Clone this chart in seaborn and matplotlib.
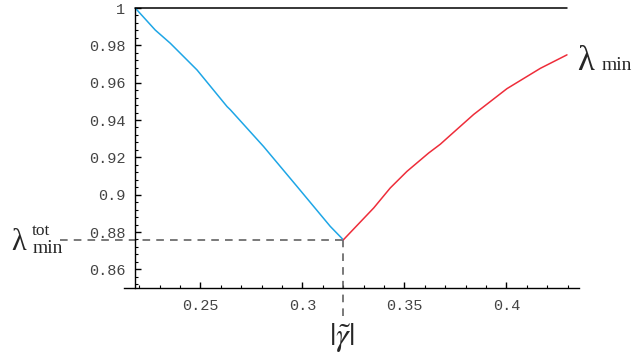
import numpy as np
import pandas as pd
import matplotlib
matplotlib.use('Agg')
import matplotlib.pyplot as plt
import seaborn as sns
from matplotlib.ticker import MultipleLocator, FuncFormatter

# values
blue_x = [0.2181, 0.2279, 0.2353, 0.2484, 0.2631, 0.2647, 0.2810, 0.2974, 0.3137, 0.3201]
blue_y = [1.0, 0.9882, 0.9811, 0.9668, 0.9472, 0.9455, 0.9258, 0.9044, 0.8830, 0.8758]
red_x = [0.3201, 0.3350, 0.3431, 0.3513, 0.3619, 0.3676, 0.3725, 0.3840, 0.4003, 0.4167, 0.4297]
red_y = [0.8758, 0.8929, 0.9036, 0.9125, 0.9223, 0.9270, 0.9318, 0.9430, 0.9568, 0.9677, 0.9749]
top_x = [0.2181, 0.4297]
top_y = [1.0, 1.0]
gamma_c = 0.3201
lam_tot = 0.8758
x_ticks = [0.25, 0.3, 0.35, 0.4]
y_ticks = [0.86, 0.88, 0.9, 0.92, 0.94, 0.96, 0.98, 1.0]

sns.set_style('ticks')
plt.rcParams['mathtext.fontset'] = 'stix'

fig = plt.figure(figsize=(6.34, 3.6), dpi=100)
ax = fig.add_axes([124/634, 72/360, 455/634, 280/360])

blue = pd.DataFrame({'x': blue_x, 'y': blue_y})
red = pd.DataFrame({'x': red_x, 'y': red_y})
sns.lineplot(data=blue, x='x', y='y', ax=ax, color='#1ea6e6', lw=1.1, sort=False)
sns.lineplot(data=red, x='x', y='y', ax=ax, color='#ee2d3a', lw=1.1, sort=False)
ax.plot(top_x, top_y, color='black', lw=1.1, clip_on=False)

# dashed guide lines to the minimum
ax.plot([0.1814, gamma_c], [lam_tot, lam_tot], color='#555555', lw=1.1,
        ls=(0, (5, 4)), clip_on=False, zorder=1)
ax.plot([gamma_c, gamma_c], [0.8348, lam_tot], color='#555555', lw=1.1,
        ls=(0, (5, 4)), clip_on=False, zorder=1)

ax.set_xlim(0.2126, 0.4356)
ax.set_ylim(0.85, 1.0)
ax.spines['left'].set_position(('data', 0.2181))
ax.spines['top'].set_visible(False)
ax.spines['right'].set_visible(False)
for s in ['left', 'bottom']:
    ax.spines[s].set_linewidth(1.0)
    ax.spines[s].set_color('black')

ax.set_xticks(x_ticks)
ax.set_yticks(y_ticks)
ax.xaxis.set_minor_locator(MultipleLocator(0.01))
ax.yaxis.set_minor_locator(MultipleLocator(0.004))
fmt = FuncFormatter(lambda v, _: f'{v:g}')
ax.xaxis.set_major_formatter(fmt)
ax.yaxis.set_major_formatter(fmt)
ax.tick_params(which='major', direction='in', length=4, width=1, color='black')
ax.tick_params(which='minor', direction='in', length=2.5, width=0.8, color='black')
ax.tick_params(axis='x', which='major', pad=8)
ax.tick_params(axis='y', which='major', pad=7)
for lab in ax.get_xticklabels() + ax.get_yticklabels():
    lab.set_family('Liberation Mono')
    lab.set_fontsize(11)
    lab.set_color('#444444')
ax.set_xlabel('')
ax.set_ylabel('')

# curve labels
fig.text(11/634, 1 - 250/360, 'λ', family='Liberation Serif', fontsize=22, ha='left', va='baseline')
fig.text(32/634, 1 - 235/360, 'tot', family='Liberation Serif', fontsize=12.5, ha='left', va='baseline')
fig.text(33/634, 1 - 253/360, 'min', family='Liberation Serif', fontsize=14, ha='left', va='baseline')
fig.text(577/634, 1 - 70/360, 'λ', family='Liberation Serif', fontsize=25, ha='left', va='baseline')
fig.text(602/634, 1 - 70/360, 'min', family='Liberation Serif', fontsize=14, ha='left', va='baseline')
fig.text(342/634, 1 - 337/360, r'$|\tilde{\gamma}|$', fontsize=23, ha='center', va='center')

fig.savefig('out.png', dpi=100)
